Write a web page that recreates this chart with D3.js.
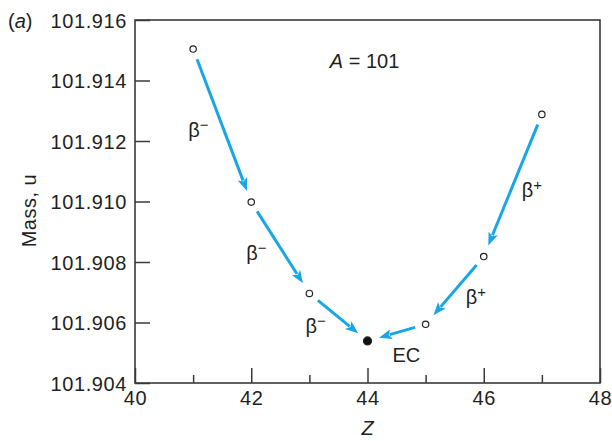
<!DOCTYPE html>
<html>
<head>
<meta charset="utf-8">
<script src="https://cdn.jsdelivr.net/npm/d3@7"></script>
<style>
  body { margin: 0; background: #fff; }
  text { font-family: "Liberation Sans", Arial, Helvetica, sans-serif; fill: #231f20; }
</style>
</head>
<body>
<div id="chart"></div>
<script>
"use strict";

// atomic number and mass (u) of the A = 101 isobars
var zValues = [41, 42, 43, 44, 45, 46, 47];
var masses = [101.91504, 101.90998, 101.90696, 101.90539, 101.90594, 101.90818, 101.91288];
var stable = [false, false, false, true, false, false, false];

// decays: from Z -> to Z, label
var decayFrom = [41, 42, 43, 45, 46, 47];
var decayTo   = [42, 43, 44, 44, 45, 46];
var decayType = ["\u2212", "\u2212", "\u2212", "EC", "+", "+"];

var xTicks = [40, 42, 44, 46, 48];
var xMinor = [41, 43, 45, 47];
var yTicks = [101.904, 101.906, 101.908, 101.910, 101.912, 101.914, 101.916];

var margin = { top: 20, right: 12, bottom: 58, left: 135 },
    width = 612 - margin.left - margin.right,
    height = 441 - margin.top - margin.bottom;

var svg = d3.select("#chart").append("svg")
  .attr("width", 612).attr("height", 441);
var g = svg.append("g")
  .attr("transform", "translate(" + margin.left + "," + margin.top + ")");

var x = d3.scaleLinear().domain([40, 48]).range([0, width]);
var y = d3.scaleLinear().domain([101.904, 101.916]).range([height, 0]);

var axisColor = "#3a3a3a";

// axes with inward ticks
var xAxis = d3.axisBottom(x).tickValues(xTicks).tickSize(-15).tickPadding(8)
  .tickFormat(d3.format("d"));
var xAxisMinor = d3.axisBottom(x).tickValues(xMinor).tickSize(-8).tickFormat("");
var yAxis = d3.axisLeft(y).tickValues(yTicks).tickSize(-15).tickPadding(8)
  .tickFormat(d3.format(".3f"));

var gx = g.append("g").attr("transform", "translate(0," + height + ")").call(xAxis);
g.append("g").attr("transform", "translate(0," + height + ")").call(xAxisMinor)
  .select(".domain").remove();
var gy = g.append("g").call(yAxis);

g.selectAll(".domain").remove();
g.selectAll(".tick line").attr("stroke", axisColor).attr("stroke-width", 1.5);
g.selectAll(".tick text")
  .style("font-size", "20px")
  .style("letter-spacing", "0.6px")
  .attr("fill", "#231f20");
gy.selectAll(".tick text").attr("dy", "0.36em");

// frame
g.append("rect")
  .attr("width", width).attr("height", height)
  .attr("fill", "none").attr("stroke", axisColor).attr("stroke-width", 1.6);

// axis titles
g.append("text")
  .attr("x", x(44)).attr("y", height + 52)
  .attr("text-anchor", "middle")
  .style("font-size", "20px").style("font-style", "italic")
  .text("Z");

svg.append("text")
  .attr("transform", "translate(36," + (margin.top + y(101.9097)) + ") rotate(-90)")
  .attr("text-anchor", "middle")
  .style("font-size", "20px").style("letter-spacing", "0.5px")
  .text("Mass, u");

var tag = svg.append("text").attr("x", 8).attr("y", 28).style("font-size", "20px");
tag.append("tspan").text("(");
tag.append("tspan").style("font-style", "italic").text("a");
tag.append("tspan").text(")");

var aLabel = g.append("text")
  .attr("x", x(43.95)).attr("y", y(101.9144))
  .attr("text-anchor", "middle")
  .style("font-size", "20px");
aLabel.append("tspan").style("font-style", "italic").text("A");
aLabel.append("tspan").text(" = 101");

// decay arrows
var blue = "#19a6e6";
var massOf = function(z) { return masses[zValues.indexOf(z)]; };

decayFrom.forEach(function(z0, i) {
  var z1 = decayTo[i];
  var x0 = x(z0), y0 = y(massOf(z0)), x1 = x(z1), y1 = y(massOf(z1));
  var dx = x1 - x0, dy = y1 - y0, len = Math.sqrt(dx * dx + dy * dy);
  var ux = dx / len, uy = dy / len;
  var sx = x0 + ux * 11, sy = y0 + uy * 11;
  var tx = x1 - ux * 12, ty = y1 - uy * 12;
  var headLen = 13, headW = 5;
  var bx = tx - ux * headLen, by = ty - uy * headLen;
  g.append("line")
    .attr("x1", sx).attr("y1", sy).attr("x2", bx + ux * 2).attr("y2", by + uy * 2)
    .attr("stroke", blue).attr("stroke-width", 3);
  g.append("path")
    .attr("d", "M" + tx + "," + ty +
      "L" + (bx - uy * headW) + "," + (by + ux * headW) +
      "L" + (bx + ux * 3) + "," + (by + uy * 3) +
      "L" + (bx + uy * headW) + "," + (by - ux * headW) + "Z")
    .attr("fill", blue);
});

// decay labels, placed beside each arrow's midpoint
var labelOffsets = [[-34, 11], [-34, 12], [-33, 16], [25, 21], [11, 14], [9, 12]];
decayFrom.forEach(function(z0, i) {
  var z1 = decayTo[i], t = decayType[i];
  var off = labelOffsets[i];
  var px, py;
  if (t === "EC") { px = x(z1); py = y(massOf(z1)); }
  else { px = (x(z0) + x(z1)) / 2; py = (y(massOf(z0)) + y(massOf(z1))) / 2; }
  var lbl = g.append("text").attr("x", px + off[0]).attr("y", py + off[1])
    .style("font-size", "20px");
  if (t === "EC") {
    lbl.text("EC");
  } else {
    lbl.append("tspan").text("\u03b2");
    lbl.append("tspan").attr("dy", -7).style("font-size", "15px").text(t);
  }
});

// nuclide points
g.selectAll("circle.pt")
  .data(zValues)
  .enter()
  .append("circle")
  .attr("class", "pt")
  .attr("cx", function(d) { return x(d); })
  .attr("cy", function(d, i) { return y(masses[i]); })
  .attr("r", function(d, i) { return stable[i] ? 4 : 3.2; })
  .attr("fill", function(d, i) { return stable[i] ? "#111" : "#fff"; })
  .attr("stroke", "#222")
  .attr("stroke-width", 1.2);
</script>
</body>
</html>
